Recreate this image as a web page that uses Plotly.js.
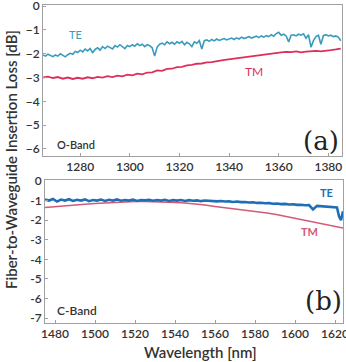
<!DOCTYPE html>
<html><head><meta charset="utf-8">
<script src="https://cdn.plot.ly/plotly-3.0.1.min.js"></script>
<style>html,body{margin:0;padding:0;background:#fff}#c{width:346px;height:362px}</style>
</head><body><div id="c"></div>
<script>
// O-band, TE (1 nm steps)
const oTE_x = [];
for (let w = 1265; w <= 1385; w++) oTE_x.push(w);
const oTE_y = [-2.05,-2.10,-2.02,-2.08,-2.12,-2.05,-2.10,-2.00,-2.06,-2.13,-2.04,-1.98,-2.02,-1.90,-1.95,-1.85,-1.92,-1.80,-1.88,-1.78,
-1.95,-1.82,-1.75,-1.85,-1.70,-1.78,-1.68,-1.74,-1.80,-1.66,-1.72,-1.62,-1.70,-1.78,-1.65,-1.70,-1.62,-1.68,-1.58,-1.66,
-1.60,-1.70,-1.62,-1.66,-1.75,-2.10,-1.72,-1.60,-1.55,-1.62,-1.50,-1.58,-1.52,-1.60,-1.50,-1.56,-1.48,-1.62,-1.52,-1.58,
-1.70,-1.50,-1.56,-1.45,-1.80,-1.45,-1.42,-1.48,-1.40,-1.46,-1.38,-1.44,-1.40,-1.36,-1.42,-1.38,-1.34,-1.40,-1.33,-1.38,
-1.30,-1.36,-1.32,-1.28,-1.34,-1.30,-1.26,-1.32,-1.25,-1.30,-1.24,-1.28,-1.20,-1.26,-1.15,-1.10,-1.22,-1.18,-1.25,-1.50,
-1.22,-1.20,-1.25,-1.18,-1.22,-1.16,-1.35,-1.20,-1.72,-1.45,-1.28,-1.22,-1.60,-1.24,-1.20,-1.25,-1.22,-1.28,-1.25,-1.30,-1.45];
// O-band, TM (2 nm steps)
const oTM_x = [];
for (let w = 1265; w <= 1385; w += 2) oTM_x.push(w);
const oTM_y = [-3.00,-2.96,-3.02,-2.98,-3.05,-3.00,-3.06,-3.01,-3.05,-2.99,-3.03,-2.97,-3.00,-2.94,-2.98,-2.92,-2.95,-2.88,-2.91,-2.84,
-2.87,-2.79,-2.78,-2.70,-2.72,-2.64,-2.63,-2.56,-2.55,-2.49,-2.47,-2.42,-2.41,-2.36,-2.35,-2.30,-2.28,-2.25,-2.22,-2.20,
-2.15,-2.14,-2.10,-2.08,-2.04,-2.01,-1.99,-1.96,-1.94,-1.92,-1.93,-1.90,-1.94,-1.91,-1.89,-1.88,-1.90,-1.86,-1.85,-1.82,-1.78];
// C-band, TE
const cTE_x = [1475,1477,1479,1481,1483,1485,1487,1489,1491,1493,1495,1497,1499,1501,1503,1505,1507,1509,1511,1513,1515,1517,1519,1521,1523,1525,
1527,1529,1531,1533,1535,1537,1539,1541,1543,1545,1547,1549,1551,1553,1555,1557,1559,1561,1563,1565,1567,1569,1571,1573,1575,1577,1579,1581,1583,1585,
1587,1589,1591,1593,1595,1597,1599,1601,1603,1605,1607,1609,1611,1613,1615,1617,1619,1621,1622,1623,1624];
const cTE_y = [-0.95,-1.00,-0.92,-1.05,-0.95,-1.00,-0.93,-1.02,-0.96,-1.00,-0.94,-1.03,-0.97,-1.00,-0.95,-1.02,-0.96,-1.00,-0.94,-1.01,-0.97,-1.00,-0.95,-1.02,-0.97,-0.99,
-0.96,-1.01,-0.97,-1.00,-0.96,-1.02,-0.98,-1.00,-0.97,-1.02,-0.98,-1.01,-0.99,-1.03,-1.00,-1.02,-1.01,-1.04,-1.02,-1.05,-1.04,-1.07,-1.05,-1.08,-1.07,-1.10,-1.09,-1.12,-1.11,-1.14,
-1.13,-1.16,-1.15,-1.18,-1.17,-1.20,-1.19,-1.22,-1.21,-1.24,-1.23,-1.45,-1.27,-1.29,-1.28,-1.31,-1.33,-1.35,-1.80,-2.00,-1.55];
// C-band, TM
const cTM_x = [1475,1480,1485,1490,1495,1500,1505,1510,1515,1520,1525,1530,1535,1540,1545,1550,1555,1560,1565,1570,1575,1580,1585,1590,1595,1600,1605,1610,1615,1620,1624];
const cTM_y = [-1.35,-1.30,-1.26,-1.22,-1.19,-1.15,-1.12,-1.10,-1.07,-1.05,-1.05,-1.06,-1.08,-1.10,-1.13,-1.17,-1.23,-1.30,-1.36,-1.42,-1.48,-1.55,-1.62,-1.70,-1.80,-1.90,-2.00,-2.10,-2.20,-2.30,-2.40];

const oTicks = [1280,1300,1320,1340,1360,1380];
const cTicks = [1480,1500,1520,1540,1560,1580,1600,1620];
const oYTicks = [0,-1,-2,-3,-4,-5,-6];
const cYTicks = [0,-1,-2,-3,-4,-5,-6,-7];
const cYText = ['0','-1','-2','-3','-4','-5','-6','-7'];

const W = 346, H = 362;
const tickFont = {family: 'Lato, sans-serif', size: 12, color: '#333', weight: 600};
const ax = {showline: true, mirror: true, linecolor: '#a0a0a0', linewidth: 1, ticks: 'inside', ticklen: 3,
  tickcolor: '#a0a0a0', showgrid: false, zeroline: false, tickfont: tickFont, ticklabeloverflow: 'allow'};

const traces = [
  {x: oTE_x, y: oTE_y, type: 'scatter', mode: 'lines', line: {color: '#3a9cbc', width: 1.6}, xaxis: 'x', yaxis: 'y'},
  {x: oTM_x, y: oTM_y, type: 'scatter', mode: 'lines', line: {color: '#dc2f5c', width: 1.8}, xaxis: 'x', yaxis: 'y'},
  {x: cTM_x, y: cTM_y, type: 'scatter', mode: 'lines', line: {color: '#d25a78', width: 1.5}, xaxis: 'x2', yaxis: 'y2'},
  {x: cTE_x, y: cTE_y, type: 'scatter', mode: 'lines', line: {color: '#1f6fb8', width: 2.6}, xaxis: 'x2', yaxis: 'y2'}
];

const layout = {
  width: W, height: H, margin: {l: 0, r: 0, t: 0, b: 0}, showlegend: false,
  paper_bgcolor: '#fff', plot_bgcolor: '#fff',
  xaxis: Object.assign({}, ax, {domain: [43/W, 342/W], range: [1265, 1385.5], tickvals: oTicks, anchor: 'y'}),
  yaxis: Object.assign({}, ax, {domain: [1-156/H, 1-5/H], range: [-6.3, 0.05], tickvals: oYTicks, anchor: 'x'}),
  xaxis2: Object.assign({}, ax, {domain: [45/W, 343/W], range: [1475, 1624], tickvals: cTicks, anchor: 'y2'}),
  yaxis2: Object.assign({}, ax, {domain: [1-323/H, 1-180/H], range: [-7.25, 0.05], tickvals: cYTicks, ticktext: cYText, anchor: 'x2'}),
  annotations: [
    {xref: 'x', yref: 'y', x: 1278, y: -1.2, text: 'TE', showarrow: false, font: {family: 'Lato, sans-serif', size: 11, color: '#3a9cbc'}},
    {xref: 'x', yref: 'y', x: 1350, y: -2.75, text: 'TM', showarrow: false, font: {family: 'Lato, sans-serif', size: 12, color: '#dc2f5c'}},
    {xref: 'x', yref: 'y', x: 1270, y: -5.8, xanchor: 'left', text: 'O-Band', showarrow: false, font: {family: 'Lato, sans-serif', size: 11, color: '#333', weight: 600}},
    {xref: 'x', yref: 'y', x: 1377, y: -5.65, text: '(a)', showarrow: false, font: {family: 'DejaVu Serif, serif', size: 26, color: '#222'}},
    {xref: 'x2', yref: 'y2', x: 1615.5, y: -0.6, text: '<b>TE</b>', showarrow: false, font: {family: 'Lato, sans-serif', size: 11, color: '#1f6fb8'}},
    {xref: 'x2', yref: 'y2', x: 1607, y: -2.6, text: '<b>TM</b>', showarrow: false, font: {family: 'Lato, sans-serif', size: 11, color: '#d25a78'}},
    {xref: 'x2', yref: 'y2', x: 1480, y: -6.6, xanchor: 'left', text: 'C-Band', showarrow: false, font: {family: 'Lato, sans-serif', size: 12, color: '#333', weight: 600}},
    {xref: 'x2', yref: 'y2', x: 1614, y: -6.15, text: '(b)', showarrow: false, font: {family: 'DejaVu Serif, serif', size: 26, color: '#222'}},
    {xref: 'paper', yref: 'paper', x: 11/W, y: 1-160/H, xanchor: 'center', yanchor: 'middle', text: 'Fiber-to-Waveguide Insertion Loss [dB]', textangle: -90, showarrow: false,
      font: {family: 'Lato, sans-serif', size: 15, color: '#333', weight: 600}},
    {xref: 'paper', yref: 'paper', x: 200/W, y: 1-352/H, xanchor: 'center', yanchor: 'middle', text: 'Wavelength [nm]', showarrow: false,
      font: {family: 'Lato, sans-serif', size: 15, color: '#333', weight: 600}}
  ]
};
Plotly.newPlot('c', traces, layout, {staticPlot: true, displayModeBar: false});
</script></body></html>
